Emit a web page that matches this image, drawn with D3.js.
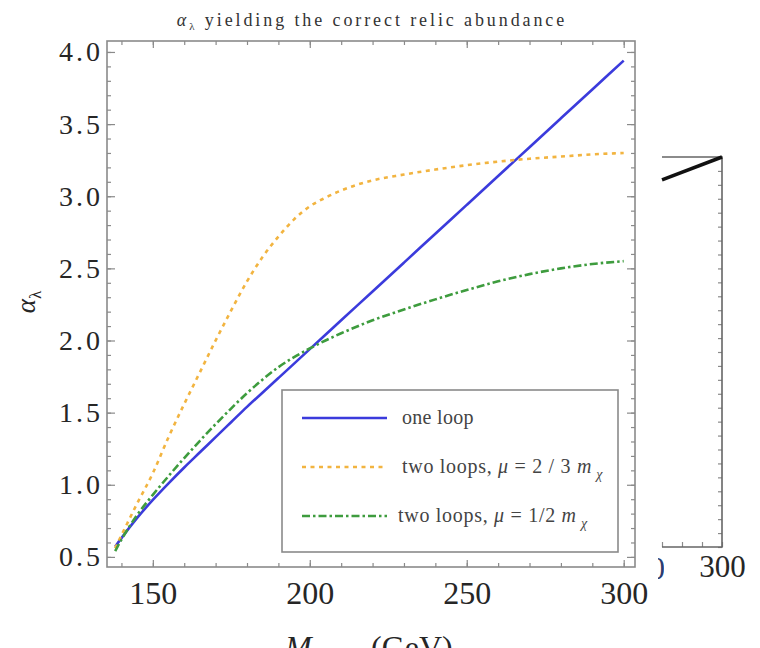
<!DOCTYPE html>
<html>
<head>
<meta charset="utf-8">
<script src="https://cdn.jsdelivr.net/npm/d3@7"></script>
<style>
  html, body { margin: 0; padding: 0; background: #fff; }
  svg { display: block; }
</style>
</head>
<body>
<svg id="chart" width="760" height="648"></svg>
<script>
// ---- data ----
const mass = [138, 140, 145, 150, 155, 160, 165, 170, 175, 180, 185, 190, 195, 200, 205, 210, 220, 230, 240, 250, 260, 270, 280, 290, 300];
const oneLoop = [0.57, 0.63, 0.77, 0.895, 1.01, 1.12, 1.225, 1.33, 1.435, 1.54, 1.64, 1.74, 1.84, 1.94, 2.04, 2.14, 2.34, 2.54, 2.74, 2.94, 3.14, 3.34, 3.54, 3.74, 3.94];
const twoLoopsTwoThirds = [0.56, 0.65, 0.87, 1.08, 1.33, 1.56, 1.78, 2.00, 2.21, 2.41, 2.58, 2.72, 2.84, 2.93, 2.99, 3.04, 3.11, 3.15, 3.185, 3.215, 3.24, 3.26, 3.275, 3.29, 3.30];
const twoLoopsHalf = [0.54, 0.62, 0.79, 0.93, 1.06, 1.185, 1.305, 1.42, 1.53, 1.635, 1.73, 1.815, 1.885, 1.945, 2.00, 2.05, 2.14, 2.215, 2.285, 2.35, 2.41, 2.46, 2.50, 2.53, 2.55];
const seriesNames = ["one loop", "two loops, μ = 2 / 3 m", "two loops, μ = 1/2 m"];
const xTicks = [150, 200, 250, 300];
const xMinorTicks = [140, 150, 160, 170, 180, 190, 200, 210, 220, 230, 240, 250, 260, 270, 280, 290, 300];
const yTicks = [0.5, 1.0, 1.5, 2.0, 2.5, 3.0, 3.5, 4.0];
const yMinorTicks = d3.range(5, 41).map(d => d / 10);
// fragment of a neighbouring panel visible on the right edge
const fragX = [270, 300];
const fragY = [26.35, 28];
const fragXTicks = [300];
const fragXMinor = [270, 280, 290, 300];
const fragYMinor = d3.range(0, 29);

// ---- layout ----
const svg = d3.select("#chart");
const L = 107, R = 635, T = 41, B = 567;
const x = d3.scaleLinear().domain([135.4, 303.6]).range([L, R]);
const y = d3.scaleLinear().domain([0.43, 4.076]).range([B, T]);
const serif = "'Liberation Serif', 'Times New Roman', serif";
const frameColor = "#8a8a8a";
const textColor = "#262626";

// title
const title = svg.append("text")
  .attr("x", 372).attr("y", 26)
  .attr("text-anchor", "middle")
  .attr("font-family", serif).attr("font-size", 18)
  .attr("letter-spacing", 2.9)
  .attr("fill", "#333");
title.append("tspan").attr("font-style", "italic").text("α");
title.append("tspan").attr("font-size", 11).attr("dy", 4).text("λ");
title.append("tspan").attr("dy", -4).text(" yielding the  correct relic abundance");

// axes helper
function styleAxis(g, labels) {
  g.select(".domain").remove();
  g.selectAll(".tick line").attr("stroke", frameColor).attr("stroke-width", 1.2);
  if (!labels) g.selectAll(".tick text").remove();
  else g.selectAll(".tick text").attr("fill", textColor).attr("font-family", serif);
}

// bottom
svg.append("g").attr("transform", `translate(0,${B})`)
  .call(d3.axisBottom(x).tickValues(xMinorTicks).tickSize(-4).tickFormat(""))
  .call(g => styleAxis(g, false));
svg.append("g").attr("transform", `translate(0,${B})`)
  .call(d3.axisBottom(x).tickValues(xTicks).tickSize(-7).tickPadding(14).tickFormat(d3.format("d")))
  .call(g => styleAxis(g, true))
  .call(g => g.selectAll(".tick text").attr("font-size", 32));
// top
svg.append("g").attr("transform", `translate(0,${T})`)
  .call(d3.axisTop(x).tickValues(xMinorTicks).tickSize(-4).tickFormat(""))
  .call(g => styleAxis(g, false));
svg.append("g").attr("transform", `translate(0,${T})`)
  .call(d3.axisTop(x).tickValues(xTicks).tickSize(-7).tickFormat(""))
  .call(g => styleAxis(g, false));
// left
svg.append("g").attr("transform", `translate(${L},0)`)
  .call(d3.axisLeft(y).tickValues(yMinorTicks).tickSize(-4).tickFormat(""))
  .call(g => styleAxis(g, false));
svg.append("g").attr("transform", `translate(${L},0)`)
  .call(d3.axisLeft(y).tickValues(yTicks).tickSize(-8).tickPadding(4).tickFormat(d3.format(".1f")))
  .call(g => styleAxis(g, true))
  .call(g => g.selectAll(".tick text").attr("font-size", 28).attr("letter-spacing", 3));
// right
svg.append("g").attr("transform", `translate(${R},0)`)
  .call(d3.axisRight(y).tickValues(yMinorTicks).tickSize(-4).tickFormat(""))
  .call(g => styleAxis(g, false));
svg.append("g").attr("transform", `translate(${R},0)`)
  .call(d3.axisRight(y).tickValues(yTicks).tickSize(-8).tickFormat(""))
  .call(g => styleAxis(g, false));

// frame
svg.append("rect").attr("x", L).attr("y", T).attr("width", R - L).attr("height", B - T)
  .attr("fill", "none").attr("stroke", frameColor).attr("stroke-width", 1.6);

// y label
const yl = svg.append("text")
  .attr("transform", "translate(35,302) rotate(-90)")
  .attr("text-anchor", "middle")
  .attr("font-family", serif).attr("font-size", 27).attr("fill", textColor);
yl.append("tspan").attr("font-style", "italic").text("α");
yl.append("tspan").attr("font-size", 17).attr("dy", 6).text("λ");

// x label (cut off at the bottom edge, as in the reference)
const xl = svg.append("text")
  .attr("x", 285).attr("y", 658)
  .attr("font-family", serif).attr("font-size", 32).attr("fill", textColor);
xl.append("tspan").attr("font-style", "italic").text("M");
xl.append("tspan").attr("font-size", 20).attr("dy", 8).attr("font-style", "italic").text("χ χ");
xl.append("tspan").attr("x", 371).attr("dy", -8).text("(GeV)");

// curves
const series = [
  { name: seriesNames[0], values: oneLoop, color: "#3b3bdc", dash: null, width: 2.6 },
  { name: seriesNames[1], values: twoLoopsTwoThirds, color: "#f2b440", dash: "4,4.5", width: 2.6 },
  { name: seriesNames[2], values: twoLoopsHalf, color: "#3e9c3e", dash: "8,3,2.5,3", width: 2.6 }
];
const line = d3.line().x(d => x(d[0])).y(d => y(d[1])).curve(d3.curveMonotoneX);
const defs = svg.append("defs");
defs.append("clipPath").attr("id", "plotclip")
  .append("rect").attr("x", L).attr("y", T).attr("width", R - L).attr("height", B - T);
defs.append("clipPath").attr("id", "sliverclip")
  .append("rect").attr("x", 658).attr("y", 550).attr("width", 6).attr("height", 40);
const plot = svg.append("g").attr("clip-path", "url(#plotclip)");
series.forEach(s => {
  plot.append("path")
    .datum(mass.map((m, i) => [m, s.values[i]]))
    .attr("d", line)
    .attr("fill", "none")
    .attr("stroke", s.color)
    .attr("stroke-width", s.width)
    .attr("stroke-dasharray", s.dash);
});

// legend
const lg = svg.append("g");
lg.append("rect").attr("x", 282).attr("y", 390).attr("width", 336).attr("height", 162)
  .attr("fill", "#fff").attr("stroke", "#8a8a8a").attr("stroke-width", 1.6);
const legY = [418, 467, 516];
series.forEach((s, i) => {
  lg.append("line").attr("x1", 302).attr("x2", 387).attr("y1", legY[i]).attr("y2", legY[i])
    .attr("stroke", s.color).attr("stroke-width", s.width).attr("stroke-dasharray", s.dash);
  const t = lg.append("text").attr("x", i === 2 ? 398 : 402).attr("y", legY[i] + 6)
    .attr("font-family", serif).attr("font-size", 20).attr("fill", "#444")
    .attr("letter-spacing", i === 0 ? 0.3 : 0.7);
  if (i === 0) {
    t.text(s.name);
  } else {
    const parts = s.name.split("μ");
    const rest = parts[1].slice(0, -1); // drop trailing "m"
    t.append("tspan").text(parts[0]);
    t.append("tspan").attr("font-style", "italic").text("μ");
    t.append("tspan").text(rest);
    t.append("tspan").attr("font-style", "italic").text("m");
    t.append("tspan").attr("font-size", 14).attr("font-style", "italic").attr("dy", 6).text(" χ");
  }
});

// fragment of neighbouring panel on the right
const fx = d3.scaleLinear().domain([270, 300]).range([662, 722]);
const fy = d3.scaleLinear().domain([0, 28]).range([547, 157]);
const frag = svg.append("g");
frag.append("g").attr("transform", "translate(722,0)")
  .call(d3.axisRight(fy).tickValues(fragYMinor).tickSize(-4).tickFormat(""))
  .call(g => styleAxis(g, false));
frag.append("g").attr("transform", "translate(0,547)")
  .call(d3.axisBottom(fx).tickValues(fragXMinor).tickSize(-5).tickFormat(""))
  .call(g => styleAxis(g, false));
frag.append("g").attr("transform", "translate(0,547)")
  .call(d3.axisBottom(fx).tickValues(fragXTicks).tickSize(0).tickPadding(8).tickFormat(d3.format("d")))
  .call(g => styleAxis(g, true))
  .call(g => g.selectAll(".tick text").attr("font-size", 31));
frag.append("path")
  .attr("d", `M662,157 H722 V547 H662`)
  .attr("fill", "none").attr("stroke", "#666").attr("stroke-width", 1.6);
frag.append("path")
  .datum(fragX.map((v, i) => [v, fragY[i]]))
  .attr("d", d3.line().x(d => fx(d[0])).y(d => fy(d[1])))
  .attr("fill", "none").attr("stroke", "#111").attr("stroke-width", 3.5);
// thin sliver of a cropped tick label at the fragment's left edge
svg.append("text").attr("clip-path", "url(#sliverclip)")
  .attr("x", 665).attr("y", 579).attr("text-anchor", "end")
  .attr("font-family", serif).attr("font-size", 31).attr("fill", "#2c3c70")
  .text("0");
</script>
</body>
</html>
